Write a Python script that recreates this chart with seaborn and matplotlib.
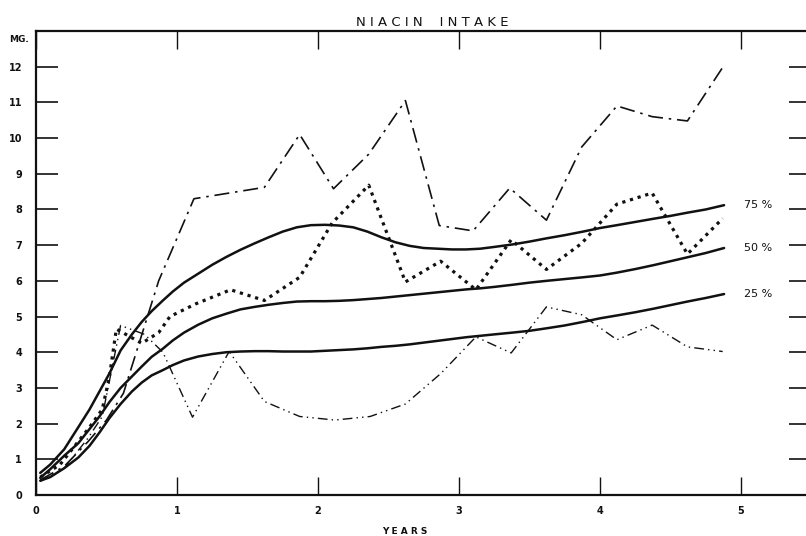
import matplotlib
matplotlib.use("Agg")
import matplotlib.pyplot as plt
import seaborn as sns
import pandas as pd

# Age in years and niacin intake (mg) for the percentile bands
pct_years = [0.03, 0.1, 0.2, 0.3, 0.38, 0.45, 0.52, 0.6, 0.68, 0.75,
             0.82, 0.9, 0.97, 1.05, 1.15, 1.25, 1.35, 1.45, 1.55, 1.65,
             1.75, 1.85, 1.95, 2.05, 2.15, 2.25, 2.35, 2.45, 2.55, 2.65,
             2.75, 2.85, 2.95, 3.05, 3.15, 3.25, 3.38, 3.5, 3.62, 3.75,
             3.88, 4.0, 4.12, 4.25, 4.38, 4.5, 4.62, 4.75, 4.88]
p75 = [0.62, 0.85, 1.28, 1.9, 2.4, 2.9, 3.4, 4.05, 4.5, 4.85,
       5.15, 5.45, 5.7, 5.95, 6.2, 6.45, 6.67, 6.87, 7.05, 7.22,
       7.38, 7.5, 7.56, 7.57, 7.55, 7.5, 7.38, 7.22, 7.08, 6.98,
       6.92, 6.9, 6.88, 6.88, 6.9, 6.95, 7.02, 7.1, 7.19, 7.28,
       7.38, 7.48, 7.56, 7.65, 7.74, 7.82, 7.91, 8.0, 8.12]
p50 = [0.48, 0.72, 1.1, 1.45, 1.85, 2.2, 2.6, 3.0, 3.32, 3.6,
       3.87, 4.1, 4.33, 4.55, 4.77, 4.95, 5.08, 5.2, 5.27, 5.33,
       5.38, 5.42, 5.43, 5.43, 5.44, 5.46, 5.49, 5.52, 5.56, 5.6,
       5.64, 5.68, 5.72, 5.76, 5.79, 5.83, 5.89, 5.95, 6.0, 6.05,
       6.1, 6.15, 6.23, 6.33, 6.44, 6.55, 6.66, 6.78, 6.92]
p25 = [0.4, 0.5, 0.75, 1.05, 1.38, 1.75, 2.15, 2.55, 2.9, 3.15,
       3.35, 3.5, 3.64, 3.77, 3.88, 3.95, 4.0, 4.02, 4.03, 4.03,
       4.02, 4.02, 4.02, 4.04, 4.06, 4.08, 4.11, 4.15, 4.18, 4.22,
       4.27, 4.32, 4.37, 4.42, 4.46, 4.5, 4.55, 4.6, 4.67, 4.75,
       4.85, 4.95, 5.03, 5.12, 5.22, 5.32, 5.42, 5.52, 5.63]
pct_labels = ["75 %", "50 %", "25 %"]

# Individual children's records
high_years = [0.03, 0.2, 0.37, 0.5, 0.62, 0.87, 1.12, 1.62, 1.87, 2.11, 2.36,
              2.62, 2.86, 3.1, 3.36, 3.62, 3.87, 4.12, 4.37, 4.62, 4.87]
high_mg = [0.42, 0.8, 1.5, 2.1, 2.85, 6.0, 8.3, 8.62, 10.1, 8.58, 9.55,
           11.05, 7.55, 7.4, 8.6, 7.7, 9.75, 10.9, 10.6, 10.48, 11.98]

mid_years = [0.03, 0.17, 0.26, 0.38, 0.47, 0.52, 0.57, 0.75, 0.87, 0.95, 1.13,
             1.38, 1.62, 1.87, 2.1, 2.36, 2.62, 2.87, 3.12, 3.37, 3.62, 3.87,
             4.12, 4.37, 4.62, 4.87]
mid_mg = [0.5, 0.85, 1.3, 1.9, 2.4, 3.3, 4.65, 4.25, 4.55, 5.0, 5.35,
          5.75, 5.45, 6.1, 7.62, 8.68, 5.97, 6.55, 5.75, 7.15, 6.32, 7.05,
          8.15, 8.46, 6.75, 7.75]

low_years = [0.03, 0.2, 0.37, 0.47, 0.6, 0.77, 0.9, 1.11, 1.37, 1.62, 1.87,
             2.12, 2.37, 2.62, 2.87, 3.12, 3.37, 3.62, 3.87, 4.12, 4.37, 4.62,
             4.87]
low_mg = [0.38, 0.75, 1.6, 2.2, 4.75, 4.5, 4.0, 2.18, 4.02, 2.62, 2.2,
          2.1, 2.2, 2.55, 3.4, 4.43, 3.98, 5.27, 5.05, 4.35, 4.76, 4.15,
          4.02]

x_ticks = [1, 2, 3, 4, 5]
y_ticks = list(range(1, 13))

sns.set_theme(style="white")
plt.rcParams["font.family"] = ["DejaVu Sans"]

fig = plt.figure(figsize=(8.06, 5.36), dpi=100)
ax = fig.add_axes([36 / 806, 41 / 536, 775.5 / 806, 464 / 536])

ink = "#111111"

pct_df = pd.DataFrame({"years": pct_years, "p75": p75, "p50": p50, "p25": p25})
for col in ["p75", "p50", "p25"]:
    sns.lineplot(data=pct_df, x="years", y=col, ax=ax, color=ink, lw=1.8,
                 estimator=None, sort=False)

sns.lineplot(x=high_years, y=high_mg, ax=ax, color=ink, lw=1.2,
             estimator=None, sort=False, linestyle=(0, (9, 3.5, 1.5, 3.5)))
sns.lineplot(x=mid_years, y=mid_mg, ax=ax, color=ink, lw=2.3,
             estimator=None, sort=False, linestyle=(0, (1.0, 1.5)))
sns.lineplot(x=low_years, y=low_mg, ax=ax, color=ink, lw=1.0,
             estimator=None, sort=False,
             linestyle=(0, (7, 3, 1, 3, 1, 3)))

for lab, vals in zip(pct_labels, [p75, p50, p25]):
    ax.text(5.02, vals[-1], lab, fontsize=8, color=ink, va="center", ha="left")

ax.set_xlim(0, 5.5)
ax.set_ylim(0, 13)
ax.set_xlabel("")
ax.set_ylabel("")

ax.set_xticks([0] + x_ticks)
ax.set_xticklabels(["0"] + [str(v) for v in x_ticks], fontsize=7,
                   fontweight="bold")
ax.set_yticks([0] + y_ticks)
ax.set_yticklabels(["0"] + [str(v) for v in y_ticks], fontsize=7,
                   fontweight="bold")

ax.tick_params(axis="x", which="both", direction="in", length=13, width=1.0,
               top=True, bottom=True, color=ink, pad=8, labelcolor=ink)
ax.tick_params(axis="y", which="both", direction="in", length=16, width=1.2,
               left=True, right=True, color=ink, pad=10, labelcolor=ink)

for side in ["left", "top", "bottom", "right"]:
    ax.spines[side].set_color(ink)
    ax.spines[side].set_linewidth(1.6)

fig.text(19 / 806, 1 - 40 / 536, "MG.", fontsize=6.5, fontweight="bold",
         color=ink, ha="center", va="center")
fig.text(432 / 806, 1 - 22 / 536, "N I A C I N    I N T A K E", fontsize=9.5,
         color=ink, ha="center", va="center")
fig.text(405 / 806, 1 - 531 / 536, "Y E A R S", fontsize=6.5,
         fontweight="bold", color=ink, ha="center", va="center")

fig.savefig("out.png", dpi=100, facecolor="white")
